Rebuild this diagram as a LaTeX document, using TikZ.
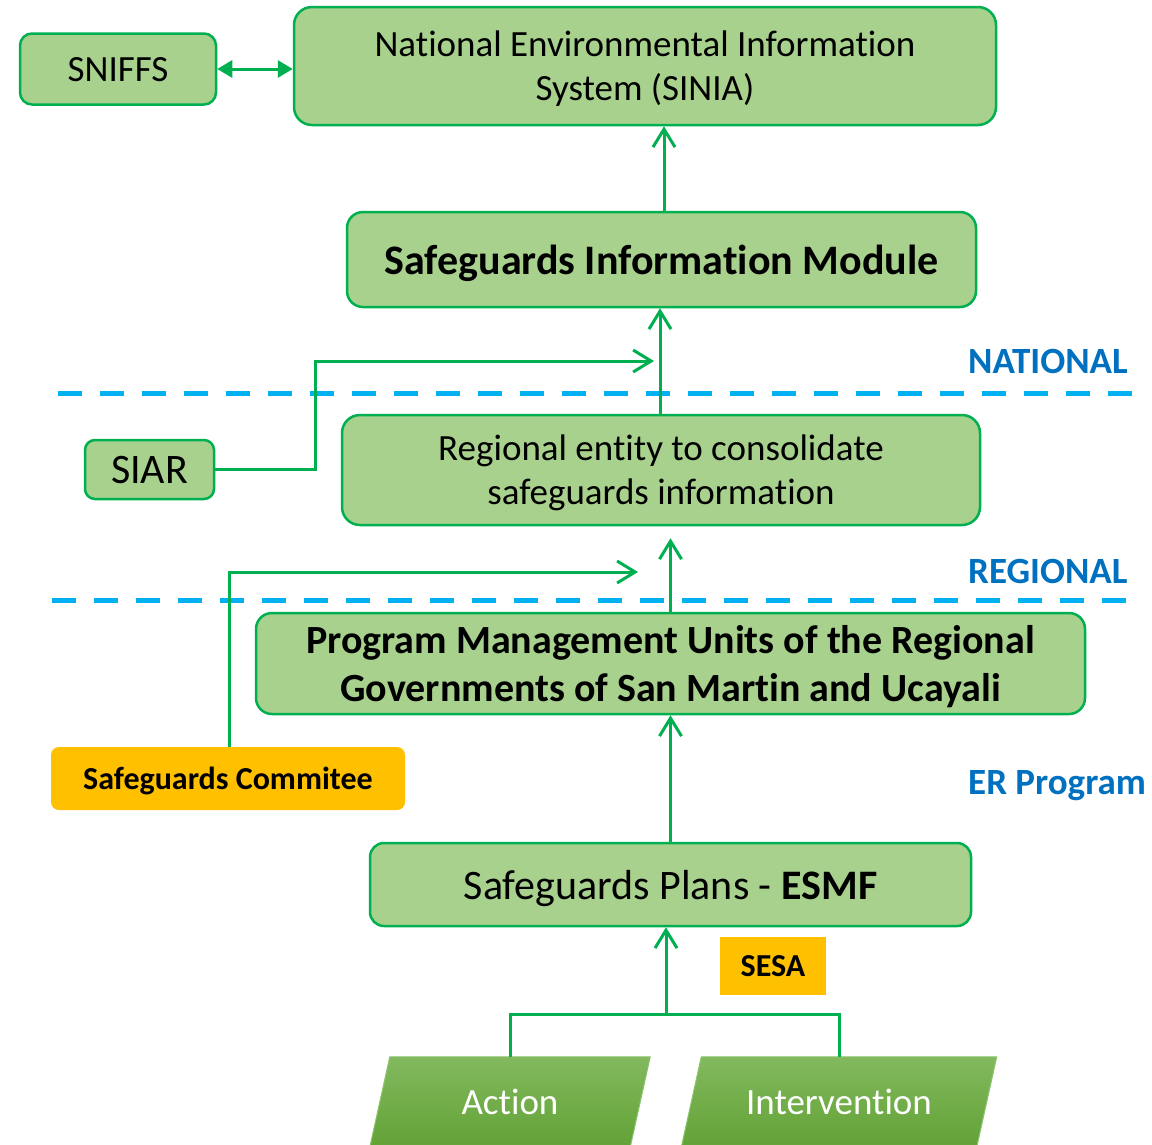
\documentclass[tikz,border=0pt]{standalone}
\usepackage{fontspec}
\setmainfont{Carlito}[Ligatures=NoCommon]
\usetikzlibrary{arrows.meta,calc,backgrounds}
\definecolor{boxfill}{HTML}{A9D18E}
\definecolor{boxline}{HTML}{00B050}
\definecolor{dashblue}{HTML}{00B0F0}
\definecolor{labelblue}{HTML}{0070C0}
\definecolor{orangefill}{HTML}{FFC000}
\definecolor{paratop}{HTML}{82B95E}
\definecolor{parabot}{HTML}{62A236}
\definecolor{paraedge}{HTML}{8CC46C}
\begin{document}
\begin{tikzpicture}[x=1pt,y=-1pt,
  gbox/.style={draw=boxline, fill=boxfill, line width=2.5pt, align=center, inner sep=0pt, text=black, text depth=0pt},
  obox/.style={fill=orangefill, align=center, inner sep=0pt, text=black, text depth=0pt},
  ptext/.style={inner sep=0pt, text=white, font=\fontsize{37}{44}\selectfont},
  conn/.style={draw=boxline, line width=3pt},
  barb/.style={conn, -{Straight Barb[length=18pt,width=22pt]}},
  sepline/.style={draw=dashblue, line width=5pt, dash pattern=on 24pt off 18pt},
  level/.style={text=labelblue, font=\fontsize{37}{44}\selectfont\bfseries, anchor=base west, inner sep=0pt},
  fA/.style={font=\fontsize{37}{44}\selectfont},
  fB/.style={font=\fontsize{42}{50}\selectfont},
  fBb/.style={font=\fontsize{42}{50}\selectfont\bfseries},
  fC/.style={font=\fontsize{40}{48}\selectfont\bfseries},
  fD/.style={font=\fontsize{32}{38}\selectfont\bfseries}
]
\useasboundingbox (0,0) rectangle (1152,1144);

% separators
\draw[sepline] (58,393) -- (1132,393);
\draw[sepline] (52,600) -- (1128,600);

% level labels
\node[level] (nat) at (968,373) {NATIONAL};
\node[level] (regl) at (968,583) {REGIONAL};
\node[level] (er) at (968,794) {ER Program};

% boxes
\node[gbox, rounded corners=12pt, minimum width=196pt, minimum height=71pt, fA] (sniffs) at (118,69) {SNIFFS};
\node[gbox, rounded corners=18pt, minimum width=702pt, minimum height=118pt, fA] (sinia) at (645,66) {National Environmental Information\\System (SINIA)};
\node[gbox, rounded corners=16pt, minimum width=629pt, minimum height=95pt, fBb] (sim) at (661.5,259.5) {Safeguards Information Module};
\node[gbox, rounded corners=18pt, minimum width=638pt, minimum height=110pt, fA] (reg) at (661,470) {Regional entity to consolidate\\safeguards information};
\node[gbox, rounded corners=10pt, minimum width=129pt, minimum height=59pt, fB] (siar) at (149.5,469.5) {SIAR};
\node[gbox, rounded corners=16pt, minimum width=829pt, minimum height=101pt, fC] (pmu) at (670.5,663.5) {Program Management Units of the Regional\\Governments of San Martin and Ucayali};
\node[obox, rounded corners=8pt, minimum width=354pt, minimum height=63pt, fD] (comm) at (228,778.5) {Safeguards Commitee};
\node[gbox, rounded corners=14pt, minimum width=601pt, minimum height=83pt, fB] (plans) at (670.5,884.5) {Safeguards Plans - \textbf{ESMF}};
\node[obox, minimum width=106pt, minimum height=58pt, fD] (sesa) at (773,966) {SESA};
\node[ptext, minimum width=260pt, minimum height=90pt] (action) at (510,1102) {Action};
\node[ptext, minimum width=295pt, minimum height=90pt] (interv) at (839,1102) {Intervention};

\begin{scope}[on background layer]
\shadedraw[top color=paratop, bottom color=parabot, draw=paraedge, line width=1pt]
  ($(action.north west)+(10,0)$) -- ($(action.north east)+(10,0)$) -- ($(action.south east)+(-10,0)$) -- ($(action.south west)+(-10,0)$) -- cycle;
\shadedraw[top color=paratop, bottom color=parabot, draw=paraedge, line width=1pt]
  ($(interv.north west)+(10,0)$) -- ($(interv.north east)+(10,0)$) -- ($(interv.south east)+(-10,0)$) -- ($(interv.south west)+(-10,0)$) -- cycle;
\end{scope}

% junction coordinates
\coordinate (k1) at (315,361);
\coordinate (j1) at (654,361);
\coordinate (k2) at (229,572);
\coordinate (j2) at (638,572);
\coordinate (j3) at (666,1014);

% connectors
\draw[conn, {Triangle[length=15pt,width=17pt]}-{Triangle[length=15pt,width=17pt]}] (sniffs.east) -- (sinia.west |- sniffs.east);
\draw[barb] ($(sim.north)+(2.5,0)$) -- ($(sinia.south)+(19,0)$);
\draw[barb] ($(reg.north)+(-1,0)$) -- ($(sim.south)+(-1.5,0)$);
\draw[barb] (siar.east) -| (k1) -- (j1);
\draw[barb] (pmu.north) -- ($(reg.south -| pmu.north)+(0,12)$);
\draw[barb] (comm.north -| k2) -- (k2) -- (j2);
\draw[barb] (plans.north) -- (plans.north |- pmu.south);
\draw[conn] (action.north) |- (j3);
\draw[conn] (interv.north) |- (j3);
\draw[barb] (j3) -- (j3 |- plans.south);
\end{tikzpicture}
\end{document}
